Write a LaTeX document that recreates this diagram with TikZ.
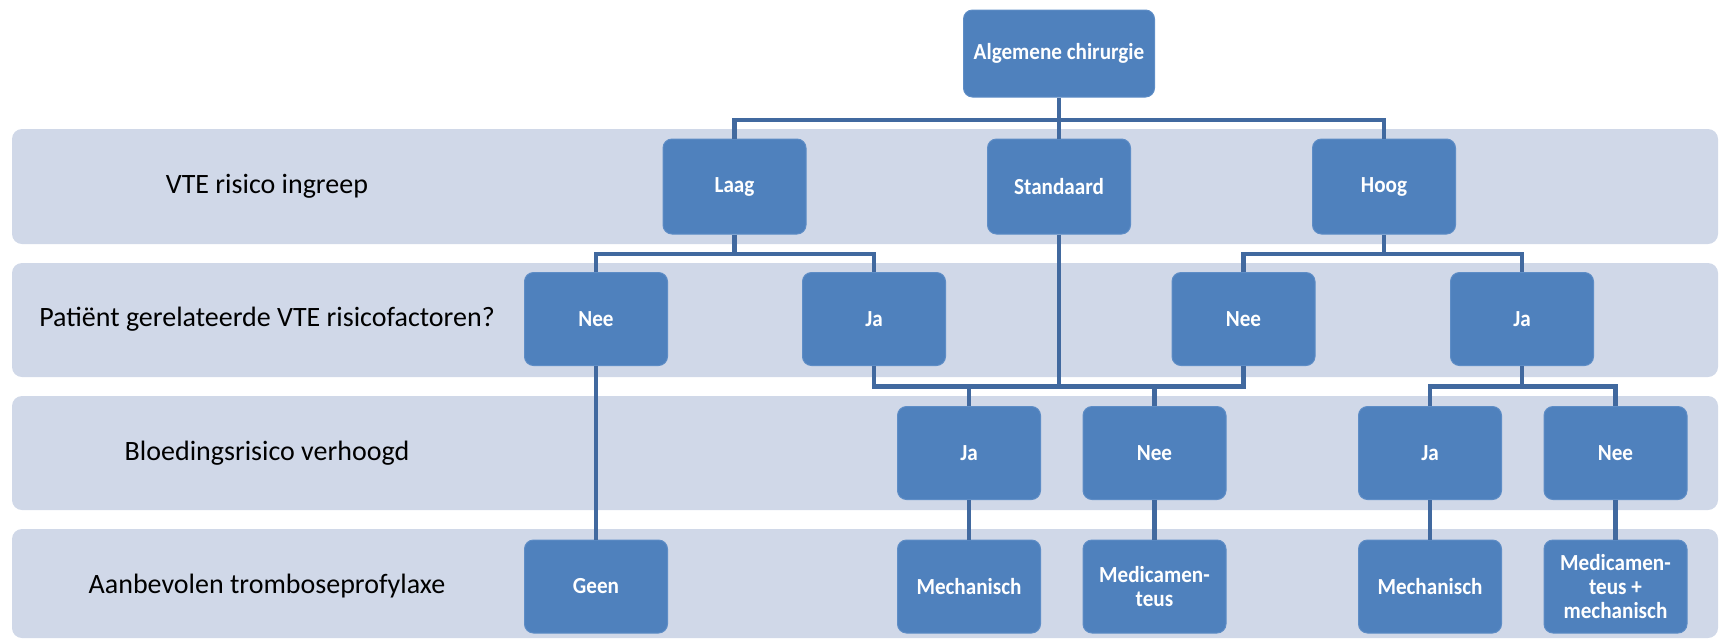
\documentclass[tikz,border=0pt]{standalone}
\usepackage{fontspec}
\setmainfont{Carlito}
\newfontfamily\boxfont[FakeStretch=0.92]{Carlito}
\definecolor{bandfill}{HTML}{D0D8E8}
\definecolor{boxfill}{HTML}{4F81BD}
\definecolor{boxedge}{HTML}{5E8DC6}
\definecolor{connline}{HTML}{41699F}
\begin{document}
\begin{tikzpicture}[x=0.5pt,y=-0.5pt,
  band/.style={fill=bandfill,rounded corners=5pt},
  rowlabel/.style={font=\fontsize{14}{16}\selectfont,text=black,anchor=center},
  box/.style={rectangle,rounded corners=4.5pt,fill=boxfill,draw=boxedge,line width=0.5pt,
    minimum width=71.5pt,minimum height=46.5pt,inner sep=1pt,text=white,align=center,
    font=\boxfont\fontsize{11.5}{12}\selectfont\bfseries},
  conn/.style={draw=connline,line width=2.3pt,line join=miter}]
\useasboundingbox (0,0) rectangle (1720,639);
% bands
\fill[band] (12,129) rectangle (1718,244);
\fill[band] (12,263) rectangle (1718,377);
\fill[band] (12,396) rectangle (1718,510);
\fill[band] (12,529) rectangle (1718,638);
% row labels
\node[rowlabel] (lab1) at (267,186) {VTE risico ingreep};
\node[rowlabel] (lab2) at (267,319) {Patiënt gerelateerde VTE risicofactoren?};
\node[rowlabel] (lab3) at (267,453) {Bloedingsrisico verhoogd};
\node[rowlabel] (lab4) at (267,586) {Aanbevolen tromboseprofylaxe};
% boxes
\node[box,minimum width=95.5pt,minimum height=43.5pt] (alg) at (1059,53.5) {Algemene chirurgie};
\node[box,minimum height=47.5pt] (laag) at (734.5,186.5) {Laag};
\node[box,minimum height=47.5pt] (std) at (1059,186.5) {Standaard};
\node[box,minimum height=47.5pt] (hoog) at (1384,186.5) {Hoog};
\node[box] (nee1) at (596,319) {Nee};
\node[box] (ja1) at (874,319) {Ja};
\node[box] (nee2) at (1243.5,319) {Nee};
\node[box] (ja2) at (1522,319) {Ja};
\node[box] (ja3) at (969,453) {Ja};
\node[box] (nee3) at (1154.5,453) {Nee};
\node[box] (ja4) at (1430,453) {Ja};
\node[box] (nee4) at (1615.5,453) {Nee};
\node[box] (geen) at (596,586.5) {Geen};
\node[box] (mech1) at (969,586.5) {Mechanisch};
\node[box] (med1) at (1154.5,586.5) {Medicamen-\\teus};
\node[box] (mech2) at (1430,586.5) {Mechanisch};
\node[box] (med2) at (1615.5,586.5) {Medicamen-\\teus +\\mechanisch};
% bar levels
\coordinate (L1) at (0,120);
\coordinate (L2) at (0,254);
\coordinate (L3) at (0,386.5);
% connectors
\draw[conn] (alg.south) -- (alg.south |- L1);
\draw[conn] (laag.north) |- (hoog.north |- L1) -- (hoog.north);
\draw[conn] (std.north |- L1) -- (std.north);
\draw[conn] (laag.south) -- (laag.south |- L2);
\draw[conn] (nee1.north) |- (ja1.north |- L2) -- (ja1.north);
\draw[conn] (hoog.south) -- (hoog.south |- L2);
\draw[conn] (nee2.north) |- (ja2.north |- L2) -- (ja2.north);
\draw[conn] (std.south) -- (std.south |- L3);
\draw[conn] (ja1.south) |- (nee2.south |- L3) -- (nee2.south);
\draw[conn] (ja3.north) -- (ja3.north |- L3);
\draw[conn] (nee3.north) -- (nee3.north |- L3);
\draw[conn] (ja2.south) -- (ja2.south |- L3);
\draw[conn] (ja4.north) |- (nee4.north |- L3) -- (nee4.north);
\draw[conn] (nee1.south) -- (geen.north);
\draw[conn] (ja3.south) -- (mech1.north);
\draw[conn] (nee3.south) -- (med1.north);
\draw[conn] (ja4.south) -- (mech2.north);
\draw[conn] (nee4.south) -- (med2.north);
\end{tikzpicture}
\end{document}
